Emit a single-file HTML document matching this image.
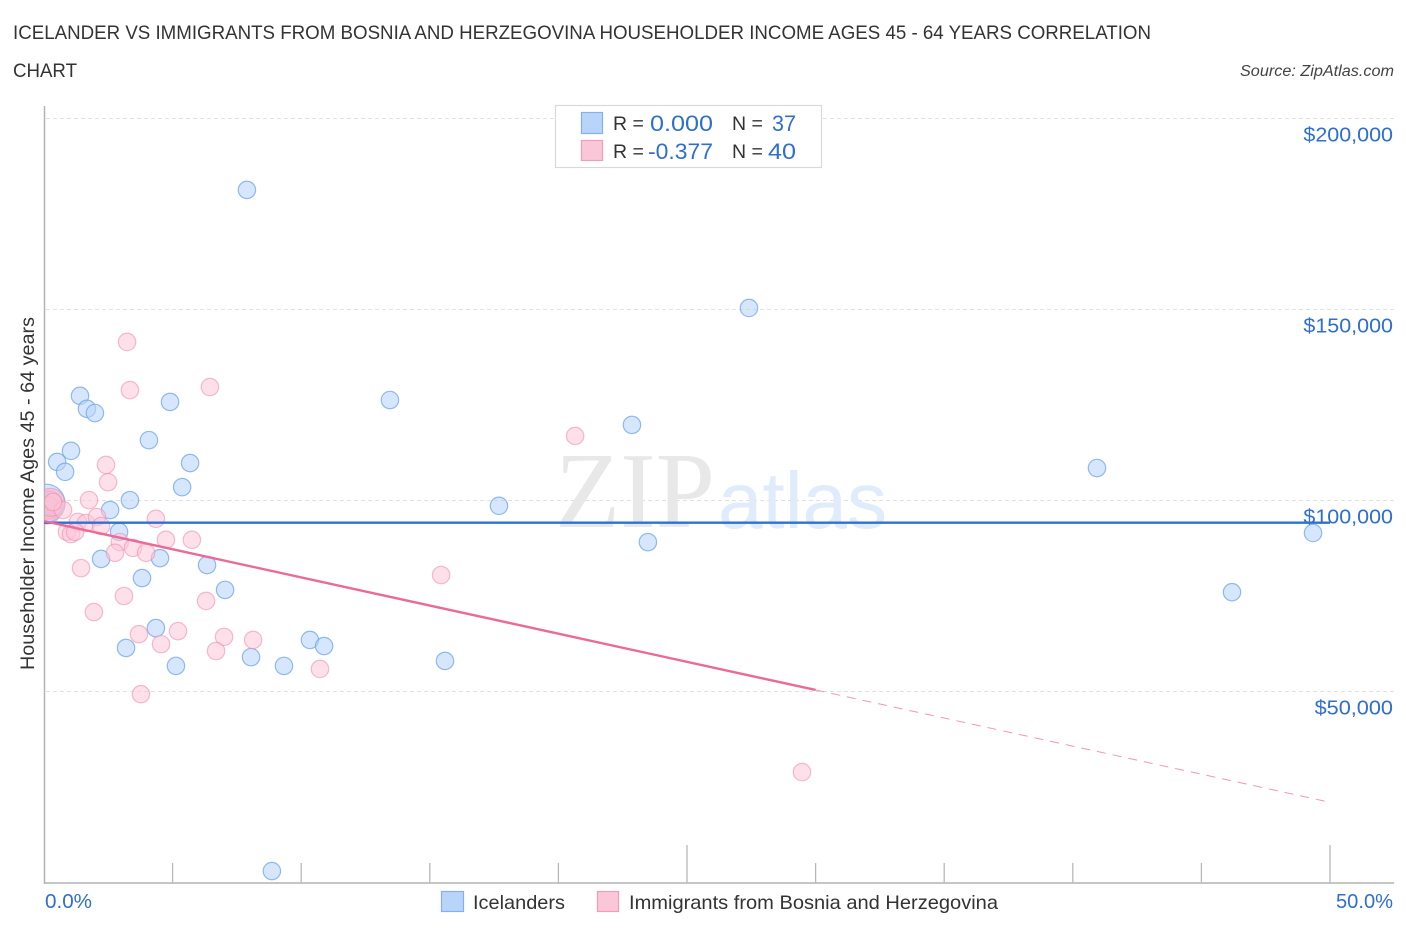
<!DOCTYPE html>
<html lang="en">
<head>
<meta charset="utf-8">
<title>Icelander vs Immigrants from Bosnia and Herzegovina Correlation Chart</title>
<style>
html,body{margin:0;padding:0;background:#fff;width:1406px;height:930px;overflow:hidden}
svg{display:block;font-family:"Liberation Sans",sans-serif}
</style>
</head>
<body>
<svg id="chart" xmlns="http://www.w3.org/2000/svg" width="1406" height="930" viewBox="0 0 1406 930">
  <text x="13" y="39" font-size="19" fill="#333" textLength="1138" lengthAdjust="spacingAndGlyphs">ICELANDER VS IMMIGRANTS FROM BOSNIA AND HERZEGOVINA HOUSEHOLDER INCOME AGES 45 - 64 YEARS CORRELATION</text>
  <text x="13" y="77" font-size="19" fill="#333" textLength="64" lengthAdjust="spacingAndGlyphs">CHART</text>
  <text x="1394" y="76" font-size="15.5" font-style="italic" fill="#444" text-anchor="end" textLength="154" lengthAdjust="spacingAndGlyphs">Source: ZipAtlas.com</text>
  <text transform="translate(34,493.5) rotate(-90)" font-size="19.5" fill="#333" text-anchor="middle" textLength="353" lengthAdjust="spacingAndGlyphs">Householder Income Ages 45 - 64 years</text>
  <g id="grid"></g>
  <g>
    <text x="555" y="527" font-family="'Liberation Serif',serif" font-size="108" fill="#e8e8e8" textLength="160" lengthAdjust="spacingAndGlyphs">ZIP</text>
    <text x="718" y="528" font-size="80" fill="#e0ebfb" textLength="169" lengthAdjust="spacingAndGlyphs">atlas</text>
  </g>
  <g id="axes"></g>
  <g id="points"></g>
  <g id="lines"></g>
  <g id="labels"></g>

  <g>
    <rect x="555.5" y="105.5" width="266" height="62" fill="#fff" stroke="#d9d9d9" stroke-width="1.2"/>
    <rect x="581.5" y="112.5" width="21" height="21" fill="#b9d4f9" stroke="#82b1ee" stroke-width="1.2"/>
    <rect x="581.5" y="140.5" width="21" height="20" fill="#fcc6d9" stroke="#f39dbb" stroke-width="1.2"/>
    <text x="613" y="130" font-size="19.5" fill="#333">R =</text>
    <text x="650" y="131" font-size="22" fill="#2f6fcf" textLength="63" lengthAdjust="spacingAndGlyphs">0.000</text>
    <text x="732" y="130" font-size="19.5" fill="#333">N =</text>
    <text x="772" y="131" font-size="22" fill="#2f6fcf" textLength="24" lengthAdjust="spacingAndGlyphs">37</text>
    <text x="613" y="158" font-size="19.5" fill="#333">R =</text>
    <text x="648" y="159" font-size="22" fill="#2f6fcf" textLength="65" lengthAdjust="spacingAndGlyphs">-0.377</text>
    <text x="732" y="158" font-size="19.5" fill="#333">N =</text>
    <text x="768" y="159" font-size="22" fill="#2f6fcf" textLength="28" lengthAdjust="spacingAndGlyphs">40</text>
  </g>

  <g>
    <rect x="441.5" y="891.5" width="22" height="20" fill="#b9d4f9" stroke="#82b1ee" stroke-width="1.2"/>
    <text x="473" y="909" font-size="19.5" fill="#333" textLength="92" lengthAdjust="spacingAndGlyphs">Icelanders</text>
    <rect x="597.5" y="891.5" width="21" height="20" fill="#fcc6d9" stroke="#f39dbb" stroke-width="1.2"/>
    <text x="629" y="909" font-size="19.5" fill="#333" textLength="369" lengthAdjust="spacingAndGlyphs">Immigrants from Bosnia and Herzegovina</text>
  </g>
</svg>
<script>
// Chart data (x = percent, y = income in $ thousands)
var xTickValues = [0, 5, 10, 15, 20, 25, 30, 35, 40, 45, 50];
var xMajorTicks = [25, 50];
var xLabelValues = [0, 50];
var yTickValues = [50, 100, 150, 200];
var yTickLabels = ["$50,000", "$100,000", "$150,000", "$200,000"];

var icelanderX = [7.89,27.41,1.40,1.67,1.98,4.90,13.45,4.08,22.86,1.05,0.51,0.82,5.68,40.94,5.37,3.34,17.69,2.57,2.92,23.48,49.34,2.22,4.51,6.34,3.81,7.04,46.19,4.35,3.19,10.34,10.89,8.05,5.13,9.33,15.59,8.86];
var icelanderY = [181.3,150.4,127.4,124.0,122.9,125.8,126.3,115.8,119.8,113.0,110.1,107.5,109.8,108.5,103.5,100.1,98.6,97.5,91.8,89.1,91.5,84.7,84.9,83.1,79.7,76.6,76.0,66.6,61.4,63.5,61.9,59.0,56.7,56.7,58.0,3.0];
var icelanderClusterX = [0.08];
var icelanderClusterY = [99.3];

var immigrantX = [3.23,3.34,6.45,20.65,2.41,2.49,1.75,0.74,1.32,1.63,2.06,2.22,0.89,1.05,1.21,4.35,2.95,2.76,3.46,3.97,4.74,5.75,1.44,15.44,3.11,6.30,1.94,3.69,5.21,4.55,7.00,6.69,8.13,10.73,3.77,29.47,0.35];
var immigrantY = [141.5,128.9,129.7,116.9,109.3,104.8,100.1,97.5,94.4,94.1,95.7,93.3,91.8,91.2,91.8,95.2,89.1,86.3,87.6,86.3,89.7,89.7,82.3,80.5,75.0,73.7,70.8,65.0,65.8,62.4,64.3,60.6,63.5,55.9,49.3,28.9,99.6];
var immigrantClusterX = [0.19, 0.12, 0.25];
var immigrantClusterY = [98.8, 97.5, 99.5];

var icelanderTrendX = [0, 50];
var icelanderTrendY = [94.2, 94.2];
var immigrantSolidX = [0, 30];
var immigrantSolidY = [94.6, 50.4];
var immigrantDashX = [30, 50];
var immigrantDashY = [50.4, 21.0];

// Axis functions
function xScale(p) { return 44 + p * 25.72; }
function yScale(v) { return 500.5 - (v - 100) * 3.82; }

var NS = 'http://www.w3.org/2000/svg';
function mk(tag, attrs, parent) {
  var el = document.createElementNS(NS, tag);
  for (var k in attrs) el.setAttribute(k, attrs[k]);
  parent.appendChild(el);
  return el;
}

var grid = document.getElementById('grid');
var axes = document.getElementById('axes');
var points = document.getElementById('points');
var lines = document.getElementById('lines');
var labels = document.getElementById('labels');

var plotBottom = 883;
var plotRight = 1394;

yTickValues.forEach(function (v) {
  var g = mk('line', {x1: 46, x2: plotRight, y1: yScale(v), y2: yScale(v), stroke: '#e0e0e0', 'stroke-width': 1, 'stroke-dasharray': '4 3'}, grid);
  
  
});

var yAxis = mk('line', {x1: 44.5, x2: 44.5, y1: 106, y2: plotBottom + 1, stroke: '#b3b3b3', 'stroke-width': 1.5}, axes);



var xAxis = mk('line', {x1: 44, x2: plotRight, y1: plotBottom, y2: plotBottom, stroke: '#b3b3b3', 'stroke-width': 1.5}, axes);



xTickValues.forEach(function (p) {
  if (p === 0) return;
  var top = xMajorTicks.indexOf(p) >= 0 ? 845 : 863;
  var t = mk('line', {x1: xScale(p), x2: xScale(p), y1: top, y2: plotBottom, stroke: '#b8b8b8', 'stroke-width': 1.3}, axes);
  
  
});

var defs = mk('defs', {}, document.getElementById('chart'));
var clip = mk('clipPath', {id: 'plot-clip'}, defs);
mk('rect', {x: 45, y: 100, width: 1361, height: 800}, clip);

function drawPoints(xs, ys, radius, fill, fillOpacity, stroke, strokeOpacity, name) {
  xs.forEach(function (x, i) {
    var c = mk('circle', {cx: xScale(x), cy: yScale(ys[i]), r: radius, fill: fill, 'fill-opacity': fillOpacity, stroke: stroke, 'stroke-opacity': strokeOpacity, 'stroke-width': 1.2, 'clip-path': 'url(#plot-clip)'}, points);
    
    
  });
}

drawPoints(icelanderClusterX, icelanderClusterY, 19, '#b9d4f9', 0.58, '#6fa5ea', 0.75, 'icelander-cluster-point');
drawPoints(icelanderX, icelanderY, 8.7, '#b9d4f9', 0.58, '#6fa5ea', 0.75, 'icelander-point');
drawPoints(immigrantClusterX, immigrantClusterY, 14, '#f9b4cc', 0.5, '#f08fb0', 0.6, 'immigrant-cluster-point');
drawPoints(immigrantX, immigrantY, 8.7, '#fcc6d9', 0.55, '#f08fb0', 0.6, 'immigrant-point');

var lineBlue = mk('line', {x1: xScale(icelanderTrendX[0]), y1: yScale(icelanderTrendY[0]), x2: xScale(icelanderTrendX[1]), y2: yScale(icelanderTrendY[1]), stroke: '#2b72d8', 'stroke-width': 2.4}, lines);



var linePink = mk('line', {x1: xScale(immigrantSolidX[0]), y1: yScale(immigrantSolidY[0]), x2: xScale(immigrantSolidX[1]), y2: yScale(immigrantSolidY[1]), stroke: '#ea6a98', 'stroke-width': 2.4}, lines);



var lineDash = mk('line', {x1: xScale(immigrantDashX[0]), y1: yScale(immigrantDashY[0]), x2: xScale(immigrantDashX[1]), y2: yScale(immigrantDashY[1]), stroke: '#ea6a98', 'stroke-opacity': 0.7, 'stroke-width': 1, 'stroke-dasharray': '9 7'}, lines);



yTickValues.forEach(function (v, i) {
  var t = mk('text', {x: 1393, y: yScale(v) + 23, 'font-size': 20, fill: '#2f6fcf', 'text-anchor': 'end', textLength: yTickLabels[i].length * 11.2, lengthAdjust: 'spacingAndGlyphs'}, labels);
  t.textContent = yTickLabels[i];
  
  
});

xLabelValues.forEach(function (p, i) {
  var t = mk('text', {x: i === 0 ? 45 : 1393, y: 908, 'font-size': 20, fill: '#2f6fcf', 'text-anchor': i === 0 ? 'start' : 'end', textLength: i === 0 ? 47 : 57, lengthAdjust: 'spacingAndGlyphs'}, labels);
  t.textContent = p.toFixed(1) + '%';
  
  
});
</script>
</body>
</html>
